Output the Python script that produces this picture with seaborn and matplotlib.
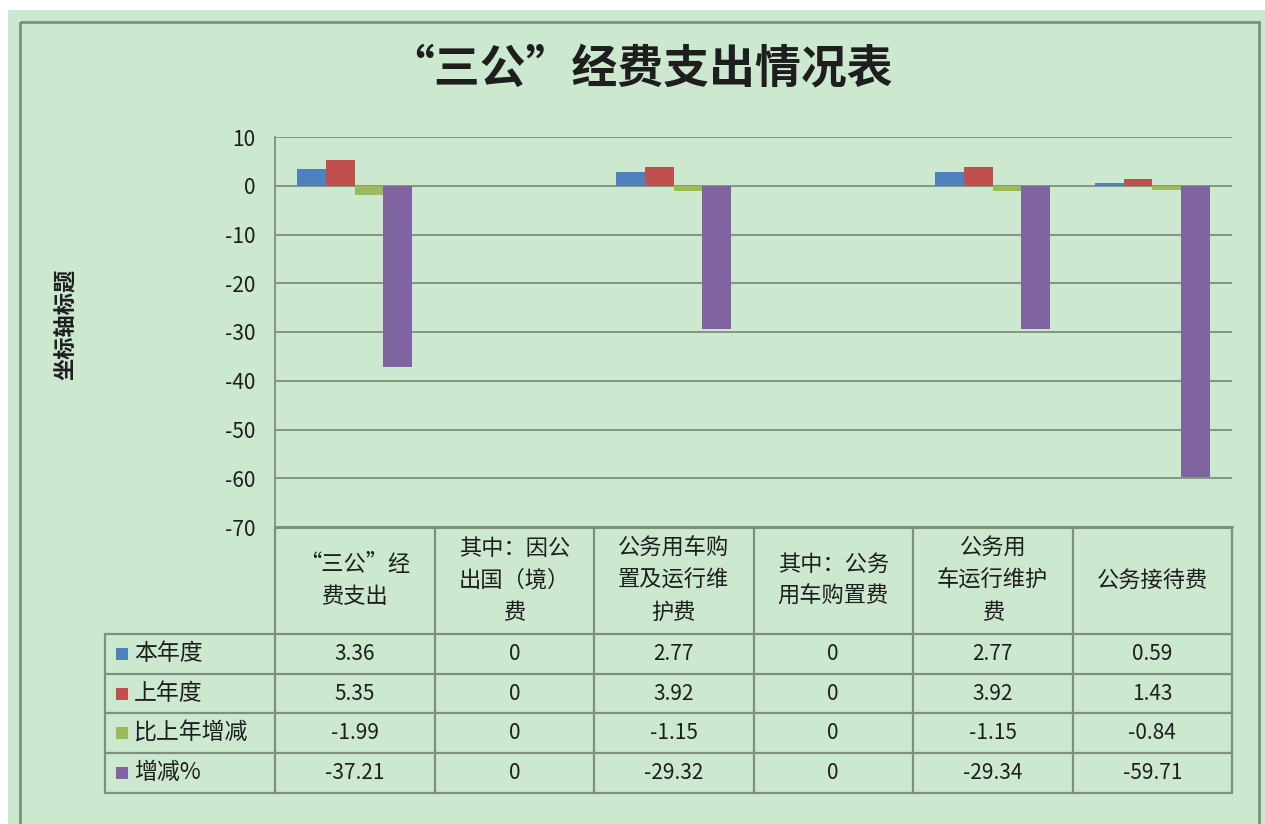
import matplotlib
matplotlib.use("Agg")
import matplotlib.pyplot as plt
import matplotlib.transforms as mtransforms
from matplotlib.patches import Rectangle
import pandas as pd
import seaborn as sns

###########################
# data
categories = ["“三公”经费支出", "其中：因公出国（境）费", "公务用车购置及运行维护费",
              "其中：公务用车购置费", "公务用车运行维护费", "公务接待费"]
header_labels = ["“三公”经\n费支出", "其中：因公\n出国（境）\n费", "公务用车购\n置及运行维\n护费",
                 "其中：公务\n用车购置费", "公务用\n车运行维护\n费", "公务接待费"]
series_names = ["本年度", "上年度", "比上年增减", "增减%"]
this_year = [3.36, 0, 2.77, 0, 2.77, 0.59]
last_year = [5.35, 0, 3.92, 0, 3.92, 1.43]
change = [-1.99, 0, -1.15, 0, -1.15, -0.84]
change_pct = [-37.21, 0, -29.32, 0, -29.34, -59.71]
yticks = [10, 0, -10, -20, -30, -40, -50, -60, -70]

colors = ["#4F81BD", "#C0504D", "#9BBB59", "#8064A2"]
BG = "#CCE8CF"
LINE = "#7f8f7f"
TXT = "#1e1e1e"

series_values = [this_year, last_year, change, change_pct]
rows = []
for name, vals in zip(series_names, series_values):
    for cat, v in zip(categories, vals):
        rows.append({"类别": cat, "系列": name, "数值": v})
df = pd.DataFrame(rows)

sns.set_theme(style="white")
plt.rcParams['font.family'] = ['Noto Sans CJK SC', 'DejaVu Sans']
plt.rcParams['axes.unicode_minus'] = False

W, H = 1265, 824
fig = plt.figure(figsize=(W / 100, H / 100), dpi=100, facecolor="white")

# background layer in pixel coordinates (y down)
bg = fig.add_axes([0, 0, 1, 1])
bg.set_xlim(0, W)
bg.set_ylim(H, 0)
bg.axis("off")
bg.add_patch(Rectangle((8, 10), W - 8, H - 10, color=BG, lw=0))
bg.add_patch(Rectangle((20, 22), 1239, 830, fill=False, ec=LINE, lw=2))

################################
# bar chart
L, R, T, B = 275, 1232, 137, 527
ax = fig.add_axes([L / W, 1 - B / H, (R - L) / W, (B - T) / H])
ax.set_facecolor("none")
sns.barplot(data=df, x="类别", y="数值", hue="系列", order=categories, hue_order=series_names,
            palette=colors, saturation=1, width=0.72, linewidth=0, legend=False, ax=ax)
ax.set_xlim(-0.5, len(categories) - 0.5)
ax.set_ylim(-70, 10)
ax.set_yticks(yticks)
ax.yaxis.grid(True, color=LINE, lw=1.3)
ax.set_axisbelow(True)
ax.set_xticks([])
ax.set_xlabel("")
ax.tick_params(axis="y", length=0, pad=14, labelsize=15, labelcolor=TXT)
for s in ["top", "right", "bottom"]:
    ax.spines[s].set_visible(False)
ax.spines["left"].set_color(LINE)
ax.spines["left"].set_linewidth(1.3)
ax.set_ylabel("坐标轴标题", fontsize=16, fontweight="bold", color=TXT)
ax.yaxis.set_label_coords(-0.206, 0.52)

bg.text(641, 69, "“三公”经费支出情况表", fontsize=33, fontweight="bold",
        ha="center", va="center", color=TXT)

################################
# data table under the chart
trans = mtransforms.blended_transform_factory(ax.transData, bg.transData)
n = len(categories)
head_top, head_bot = B, 634
row_h = 39.7
row_edges = [head_bot + k * row_h for k in range(len(series_names) + 1)]
tl = 105

bg.plot([-0.5, n - 0.5], [head_top, head_top], color=LINE, lw=2.2, transform=trans, clip_on=False)
for y in row_edges:
    bg.plot([tl, L], [y, y], color=LINE, lw=1.6, clip_on=False)
    bg.plot([-0.5, n - 0.5], [y, y], color=LINE, lw=1.6, transform=trans, clip_on=False)
bg.plot([tl, tl], [row_edges[0], row_edges[-1]], color=LINE, lw=1.6)
for i in range(n + 1):
    bg.plot([i - 0.5, i - 0.5], [head_top, row_edges[-1]], color=LINE, lw=1.6,
            transform=trans, clip_on=False)

# header
hc = (head_top + head_bot) / 2
for i, lab in enumerate(header_labels):
    lines = lab.split("\n")
    for k, line in enumerate(lines):
        yy = hc + (k - (len(lines) - 1) / 2) * 32
        bg.text(i, yy, line, fontsize=16, ha="center", va="center", color=TXT, transform=trans)

# rows
for r, (name, vals) in enumerate(zip(series_names, series_values)):
    yc = (row_edges[r] + row_edges[r + 1]) / 2
    bg.add_patch(Rectangle((116, yc - 6), 12, 12, color=colors[r], lw=0))
    bg.text(134, yc, name, fontsize=16.5, ha="left", va="center", color=TXT)
    for i, v in enumerate(vals):
        bg.text(i, yc, f"{v:g}", fontsize=15, ha="center", va="center", color=TXT, transform=trans)

fig.savefig("out.png", dpi=100, facecolor=fig.get_facecolor())
